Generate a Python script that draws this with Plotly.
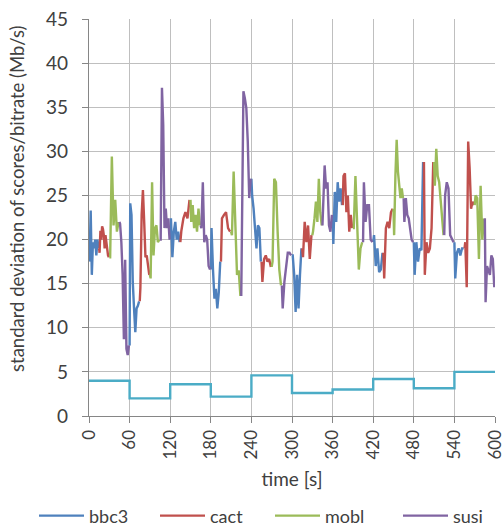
import plotly.graph_objects as go

# time axis
minutes = [0, 60, 120, 180, 240, 300, 360, 420, 480, 540]
seg_len = 15
x_ticks = [0, 60, 120, 180, 240, 300, 360, 420, 480, 540, 600]

# standard deviation of scores, one 15 s segment per minute for each sequence
bbc3 = [
    [17.5, 23.3, 16.0, 19.7, 19.0, 20.0, 18.2, 20.0, 19.0],
    [24.1, 22.8, 15.2, 12.2, 9.5, 12.2, 12.5, 13.0],
    [22.4, 18.0, 20.9, 22.0, 20.0, 20.9, 19.7],
    [21.3, 16.6, 13.3, 14.4, 12.2, 14.0, 17.5],
    [25.0, 23.5, 21.3, 19.0, 21.6, 21.3, 17.5],
    [18.2, 16.0, 11.8, 16.0, 12.2, 16.0, 19.0],
    [19.5, 25.4, 22.0, 26.5, 24.3, 25.8, 23.9],
    [20.5, 17.0, 19.0, 16.3, 16.6, 18.5],
    [16.0, 19.7, 17.5, 19.0, 18.8, 28.8],
    [15.6, 18.5, 19.0, 18.2, 19.0, 19.0],
]
cact = [
    [18.5, 21.0, 20.0, 21.5, 21.2, 20.5, 19.0, 20.5, 19.5, 18.7, 18.2, 18.0],
    [14.5, 22.8, 25.6, 22.0, 18.0, 18.2, 16.7, 16.0],
    [21.0, 22.4, 23.1, 22.4, 24.5],
    [22.4, 22.8, 23.1, 21.3, 20.9],
    [15.2, 17.8, 18.2, 17.5, 17.8, 16.9],
    [18.0, 22.0, 19.7, 21.6, 17.8, 20.5],
    [27.2, 27.5, 23.1, 25.0, 20.9, 22.8, 21.3],
    [15.6, 21.3, 22.0, 21.3, 23.1, 23.5],
    [16.0, 19.7, 18.5, 19.0, 21.3, 28.8],
    [19.7, 14.6, 31.1, 28.1, 23.5, 24.3, 23.9],
]
mobl = [
    [18.0, 29.4, 21.6, 24.5, 20.9, 22.0],
    [15.6, 26.5, 18.2, 21.3, 21.6, 19.7, 20.0],
    [22.0, 23.9, 21.3, 22.8, 20.9, 23.5, 21.6],
    [20.5, 27.7, 20.5, 16.0, 16.5, 13.6],
    [17.5, 26.9, 26.5, 20.9, 16.6, 14.8],
    [20.9, 22.4, 24.3, 22.0, 26.9, 23.1, 21.6],
    [21.3, 27.2, 20.9, 16.6, 19.0, 19.7],
    [20.5, 27.2, 31.3, 27.7, 25.8, 24.7, 25.8, 24.7],
    [26.1, 30.3, 27.2, 26.5, 24.7, 22.8, 20.5],
    [25.0, 24.7, 17.8, 26.1, 20.0, 22.4],
]
susi = [
    [21.8, 19.7, 16.0, 8.7, 17.7, 7.6, 6.9, 8.0],
    [20.0, 37.2, 33.0, 21.3, 23.5, 21.3, 22.4, 20.0],
    [21.3, 26.5, 19.7, 20.5, 20.0, 17.0, 16.6],
    [20.0, 36.8, 36.0, 34.9, 31.1, 24.7, 26.9],
    [12.2, 15.2, 16.6, 18.5, 18.5, 18.2],
    [24.7, 28.4, 25.8, 26.5, 21.6, 20.9, 22.8],
    [26.5, 22.0, 23.9, 23.9, 20.0, 19.7],
    [22.0, 24.7, 22.8, 22.4, 20.9, 20.0, 19.7],
    [25.0, 26.5, 25.8, 20.5, 20.0, 19.7],
    [12.9, 17.0, 16.6, 16.0, 18.2, 17.8, 14.6],
]
# bitrate per minute (Mb/s)
bitrate = [4.0, 2.0, 3.6, 2.2, 4.6, 2.6, 3.0, 4.2, 3.15, 5.0]

y_title = "standard deviation of scores/bitrate (Mb/s)"
x_title = "time [s]"

names = ["bbc3", "cact", "mobl", "susi"]
series = {"bbc3": bbc3, "cact": cact, "mobl": mobl, "susi": susi}
colors = {"bbc3": "#4F81BD", "cact": "#C0504D", "mobl": "#9BBB59", "susi": "#8064A2"}
legend_ids = ["legend", "legend2", "legend3", "legend4"]
legend_left_px = [34, 155, 270, 398]

traces = {n: ([], []) for n in names}
prev_last = None
for k, m in enumerate(minutes):
    for j, n in enumerate(names):
        seg = series[n][k]
        start = m + j * seg_len
        xs, ys = traces[n]
        if prev_last is not None:
            xs.append(float(start))
            ys.append(prev_last)
        cnt = len(seg)
        for i, v in enumerate(seg):
            xs.append(start + seg_len * (i + 0.5) / cnt)
            ys.append(v)
        xs.append(None)
        ys.append(None)
        prev_last = seg[-1]

fig = go.Figure()
for n, lid in zip(names, legend_ids):
    xs, ys = traces[n]
    fig.add_trace(go.Scatter(x=xs, y=ys, mode="lines", name=n, legend=lid,
                             line=dict(color=colors[n], width=2.4),
                             connectgaps=False))

fig.add_trace(go.Scatter(x=minutes + [600], y=bitrate + [bitrate[-1]], mode="lines",
                         line=dict(color="#4BACC6", width=2.4, shape="hv"),
                         showlegend=False, name="bitrate"))

font_family = "Lato, 'Open Sans', sans-serif"
W, H = 502, 531
L, R, T, B = 89, 7, 19, 115
layout_legends = {}
for lid, px in zip(legend_ids, legend_left_px):
    layout_legends[lid] = dict(orientation="h", x=px / W, xanchor="left", xref="container",
                               y=-0.205, yanchor="top", font=dict(size=18),
                               itemwidth=45, bgcolor="rgba(0,0,0,0)")

fig.update_layout(
    width=W, height=H,
    margin=dict(l=L, r=R, t=T, b=B, autoexpand=False),
    paper_bgcolor="white", plot_bgcolor="white",
    font=dict(family=font_family, color="#404040", size=17),
    showlegend=True,
    **layout_legends,
)
plot_w = W - L - R
plot_h = H - T - B
fig.add_annotation(text=y_title, textangle=-90, showarrow=False,
                   xref="paper", yref="paper",
                   x=(17 - L) / plot_w, y=(H - B - 199) / plot_h,
                   xanchor="center", yanchor="middle",
                   font=dict(size=18.5, color="#404040", family=font_family))

fig.update_xaxes(range=[0, 600], tickvals=x_ticks, ticktext=[str(v) for v in x_ticks],
                 tickangle=-90, showgrid=True, gridcolor="#BFBFBF", gridwidth=1.3,
                 showline=True, linecolor="#868686", linewidth=1.3,
                 ticks="outside", ticklen=6, tickcolor="#868686",
                 tickfont=dict(size=17), ticklabeloverflow="allow",
                 title=dict(text=x_title, font=dict(size=19), standoff=14),
                 zeroline=False, automargin=False)
fig.update_yaxes(range=[0, 45], dtick=5, showgrid=True, gridcolor="#BFBFBF", gridwidth=1.3,
                 showline=True, linecolor="#868686", linewidth=1.3,
                 ticks="outside", ticklen=6, tickcolor="#868686",
                 tickfont=dict(size=19), ticklabelstandoff=10, ticklabeloverflow="allow",
                 zeroline=False, automargin=False)

fig.write_html("out.html", config={"displayModeBar": False},
               post_script="document.body.style.margin='0';")
